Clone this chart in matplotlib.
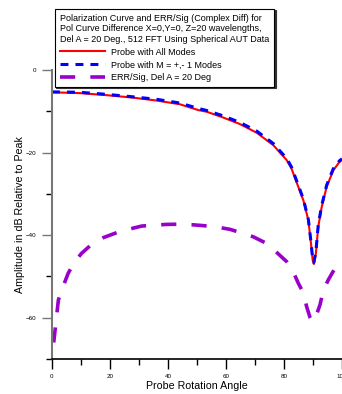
import matplotlib
matplotlib.use("Agg")
import matplotlib.pyplot as plt
from matplotlib.ticker import MultipleLocator

plt.rcParams['font.family'] = ['Liberation Sans', 'DejaVu Sans']

# Probe with all modes (red solid)
ang_all = [0, 9.7, 18.9, 28, 36.1, 44.1, 50.4, 53.3, 59, 64.8, 70.6, 76.3,
           80.9, 82.6, 84.5, 86.7, 88.4, 89.2, 89.9, 90.3, 91, 91.8, 93,
           94.7, 97, 99.1, 100]
db_all = [-5.4, -5.6, -6.1, -6.7, -7.4, -8.3, -9.7, -10.1, -11.5, -13.1,
          -15.2, -18.2, -21.8, -23.9, -27.5, -31.6, -36.4, -41.3, -46.1,
          -47.0, -44.4, -38.0, -33.2, -28.3, -24.3, -22.3, -21.8]

# Probe with M = +,- 1 modes (blue dashed)
ang_m1 = [0, 9.7, 18.9, 28, 36.1, 44.1, 50.4, 53.3, 59, 64.8, 70.6, 76.3,
          80.9, 82.6, 84.5, 86.7, 88.4, 89.2, 89.9, 90.3, 91, 91.8, 93,
          94.7, 97, 99.1, 100]
db_m1 = [-5.3, -5.4, -5.9, -6.5, -7.1, -8.0, -9.3, -9.8, -11.1, -12.7,
         -14.8, -17.8, -21.4, -23.5, -27.1, -31.3, -36.2, -41.0, -45.8,
         -46.6, -44.0, -37.6, -32.8, -27.9, -23.9, -22.0, -21.5]

# ERR/Sig, Del A = 20 Deg (purple long dashes)
ang_err = [0.6, 2.2, 4.5, 5.6, 7.9, 10.2, 14.2, 17.7, 22.3, 26.3, 30.9,
           34.9, 39.5, 43.6, 48.7, 52.2, 57.4, 61.4, 66, 69.4, 74, 77.2,
           80.9, 83, 84.9, 86.7, 87.8, 89, 89.8, 91, 92.4, 93.6, 95.3,
           97.6, 99.3, 100]
db_err = [-66, -55.7, -51.2, -49.2, -46.4, -44.4, -41.9, -40.6, -39.4,
          -38.6, -37.8, -37.6, -37.4, -37.35, -37.5, -37.7, -38.1, -38.6,
          -39.6, -40.4, -42.0, -44.0, -46.4, -48.6, -51.6, -54.0, -57.3,
          -60.0, -61.0, -59.7, -56.9, -53.3, -50.8, -48.0, -46.4, -46.0]

legend_title = ("Polarization Curve and ERR/Sig (Complex Diff) for\n"
                "Pol Curve Difference X=0,Y=0, Z=20 wavelengths,\n"
                "Del A = 20 Deg., 512 FFT Using Spherical AUT Data")

fig = plt.figure(figsize=(3.42, 3.94), dpi=100)
ax = fig.add_axes([52 / 342, 35 / 394, 1 - 52 / 342, (359 - 70) / 394])

ax.plot(ang_all, db_all, color='#ff0000', lw=1.5, label='Probe with All Modes')
ax.plot(ang_m1, db_m1, color='#0000ff', lw=2.2, dashes=(2.6, 2.3),
        label='Probe with M = +,- 1 Modes')
ax.plot(ang_err, db_err, color='#9900cc', lw=2.6, dashes=(4.2, 4.2),
        label='ERR/Sig, Del A = 20 Deg')

ax.set_xlim(0, 100)
ax.set_ylim(-70, 0)
ax.xaxis.set_major_locator(MultipleLocator(20))
ax.xaxis.set_minor_locator(MultipleLocator(10))
ax.yaxis.set_major_locator(MultipleLocator(20))
ax.yaxis.set_minor_locator(MultipleLocator(10))
ax.tick_params(which='major', length=7, width=1, labelsize=4.5, pad=4)
ax.tick_params(which='minor', length=4, width=1)
ax.tick_params(axis='y', which='major', color='#777777')

for s in ['top', 'right']:
    ax.spines[s].set_visible(False)
ax.spines['left'].set_color('#777777')
ax.spines['left'].set_linewidth(1.5)
ax.spines['bottom'].set_linewidth(1.2)

ax.set_xlabel('Probe Rotation Angle', fontsize=7.7, labelpad=1)
ax.set_ylabel('Amplitude in dB Relative to Peak', fontsize=7.7, labelpad=1)

leg = ax.legend(title=legend_title, loc='upper left',
                bbox_to_anchor=(55 / 342, 1 - 9 / 394),
                bbox_transform=fig.transFigure, fontsize=6.5,
                title_fontsize=6.5, alignment='left', fancybox=False,
                framealpha=1, edgecolor='black', handlelength=5.0,
                handletextpad=0.65, labelspacing=0.42, borderpad=0.55,
                borderaxespad=0,
                shadow={'ox': 1.0, 'oy': -1.0, 'color': '#333333', 'alpha': 1})
leg.get_frame().set_linewidth(0.8)
leg.get_title().set_linespacing(1.2)

fig.savefig('out.png', dpi=100)
